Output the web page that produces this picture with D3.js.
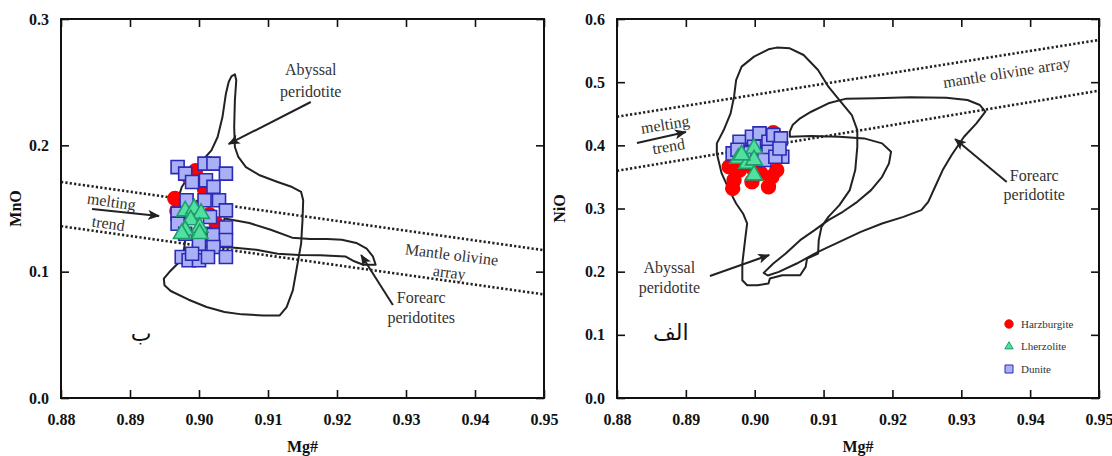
<!DOCTYPE html>
<html>
<head>
<meta charset="utf-8">
<style>
body { margin: 0; background: #fff; }
svg { display: block; }
.frame { fill: none; stroke: #111; stroke-width: 2; }
.axis path { display: none; }
.axis line { stroke: #111; stroke-width: 1.6; }
.axis text { font: bold 16px "Liberation Serif", serif; fill: #111; }
.title { font: bold 16px "Liberation Serif", serif; fill: #111; }
.field { fill: none; stroke: #222; stroke-width: 2; stroke-linejoin: round; }
.trend { fill: none; stroke: #222; stroke-width: 2.6; stroke-dasharray: 2.2, 2.2; }
.note { font: 16px "Liberation Serif", serif; fill: #333; }
.arrow { stroke: #222; stroke-width: 2; }
.arabic { font: 22px "DejaVu Sans", sans-serif; fill: #111; }
.legend text { font: 11px "Liberation Serif", serif; fill: #333; }
</style>
</head>
<body>
<svg width="1112" height="456"></svg>
<script src="https://d3js.org/d3.v7.min.js"></script>
<script>
// ---- data ----
var mgTicks = [0.88, 0.89, 0.90, 0.91, 0.92, 0.93, 0.94, 0.95];
var mnoTicks = [0.0, 0.1, 0.2, 0.3];
var nioTicks = [0.0, 0.1, 0.2, 0.3, 0.4, 0.5, 0.6];

// MnO vs Mg# (panel ب)
var mnoArrayUpper = [[0.88, 0.171], [0.95, 0.117]];
var mnoArrayLower = [[0.88, 0.136], [0.95, 0.082]];
var mnoAbyssal = [
  [0.9052, 0.2562], [0.9054, 0.2515], [0.9052, 0.2356], [0.9051, 0.2145], [0.9052, 0.1987],
  [0.9057, 0.1908], [0.9068, 0.1828], [0.9088, 0.1763], [0.9114, 0.1710], [0.9135, 0.1670],
  [0.9148, 0.1631], [0.9151, 0.1565], [0.9150, 0.1406], [0.9148, 0.1222], [0.9142, 0.1037],
  [0.9136, 0.0852], [0.9127, 0.0720], [0.9117, 0.0654], [0.9093, 0.0654], [0.9062, 0.0662],
  [0.9037, 0.0681], [0.9011, 0.0720], [0.8985, 0.0778], [0.8959, 0.0847], [0.8950, 0.0892],
  [0.8949, 0.0945], [0.8957, 0.0997], [0.8969, 0.1063], [0.8977, 0.1129], [0.8980, 0.1248],
  [0.8975, 0.1354], [0.8969, 0.1459], [0.8969, 0.1565], [0.8975, 0.1670], [0.8988, 0.1776],
  [0.9003, 0.1868], [0.9018, 0.1960], [0.9027, 0.2066], [0.9034, 0.2224], [0.9039, 0.2409],
  [0.9043, 0.2501], [0.9047, 0.2546]
];
var mnoForearc = [
  [0.9037, 0.1420], [0.9073, 0.1385], [0.9104, 0.1332], [0.9135, 0.1269], [0.9161, 0.1259],
  [0.9186, 0.1259], [0.9207, 0.1253], [0.9228, 0.1227], [0.9243, 0.1182], [0.9252, 0.1121],
  [0.9256, 0.1055], [0.9238, 0.1055], [0.9225, 0.1082], [0.9212, 0.1121], [0.9176, 0.1129],
  [0.9145, 0.1132], [0.9114, 0.1142], [0.9083, 0.1174], [0.9052, 0.1190], [0.9026, 0.1195]
];
var mnoHarz = [
  [0.8995, 0.180], [0.9005, 0.172], [0.9008, 0.165], [0.8965, 0.158], [0.8968, 0.148],
  [0.8972, 0.140], [0.9025, 0.138], [0.9028, 0.131], [0.9015, 0.145], [0.8985, 0.175]
];
var mnoDunite = [
  [0.8969, 0.1828], [0.8980, 0.1776], [0.9008, 0.1855], [0.9021, 0.1855], [0.9039, 0.1776],
  [0.8990, 0.1710], [0.9010, 0.1723], [0.8969, 0.1459], [0.8969, 0.1380], [0.8982, 0.1565],
  [0.9008, 0.1565], [0.9029, 0.1565], [0.9039, 0.1485], [0.8980, 0.1300], [0.9008, 0.1300],
  [0.9021, 0.1290], [0.9039, 0.1350], [0.9039, 0.1250], [0.9000, 0.1220], [0.9021, 0.1195],
  [0.9039, 0.1116], [0.8975, 0.1116], [0.8985, 0.1090], [0.9000, 0.1090], [0.9013, 0.1116],
  [0.8990, 0.1142], [0.9021, 0.1671], [0.8990, 0.1459], [0.9016, 0.1433]
];
var mnoLherz = [
  [0.8980, 0.1480], [0.8993, 0.1497], [0.9003, 0.1460], [0.8988, 0.1410], [0.9001, 0.1350],
  [0.9001, 0.1300], [0.8980, 0.1327], [0.8975, 0.1300]
];

// NiO vs Mg# (panel الف)
var nioArrayUpper = [[0.88, 0.4453], [0.95, 0.5668]];
var nioArrayLower = [[0.88, 0.3597], [0.95, 0.4865]];
var nioAbyssal = [
  [0.9032, 0.5547], [0.9051, 0.5536], [0.9071, 0.5430], [0.9092, 0.5193], [0.9107, 0.4929],
  [0.9123, 0.4717], [0.9141, 0.4480], [0.9149, 0.4242], [0.9149, 0.3978], [0.9146, 0.3608],
  [0.9138, 0.3291], [0.9123, 0.3053], [0.9107, 0.2868], [0.9097, 0.2710], [0.9093, 0.2499],
  [0.9092, 0.2287], [0.9076, 0.2208], [0.9074, 0.2076], [0.9066, 0.1944], [0.9040, 0.1944],
  [0.9022, 0.1891], [0.9020, 0.1812], [0.9004, 0.1786], [0.8989, 0.1786], [0.8982, 0.1865],
  [0.8982, 0.2129], [0.8986, 0.2499], [0.8989, 0.2763], [0.8983, 0.2921], [0.8973, 0.3080],
  [0.8963, 0.3291], [0.8952, 0.3555], [0.8945, 0.3872], [0.8945, 0.4031], [0.8955, 0.4242],
  [0.8965, 0.4506], [0.8970, 0.4770], [0.8973, 0.5034], [0.8981, 0.5246], [0.8999, 0.5404],
  [0.9020, 0.5520]
];
var nioForearc = [
  [0.9051, 0.4136], [0.9082, 0.4147], [0.9123, 0.4136], [0.9159, 0.4110], [0.9185, 0.4031],
  [0.9198, 0.3899], [0.9195, 0.3714], [0.9185, 0.3502], [0.9169, 0.3291], [0.9149, 0.3106],
  [0.9128, 0.2948], [0.9107, 0.2816], [0.9087, 0.2657], [0.9066, 0.2499], [0.9045, 0.2287],
  [0.9027, 0.2129], [0.9013, 0.1981], [0.9019, 0.1939], [0.9035, 0.1997], [0.9061, 0.2129],
  [0.9092, 0.2314], [0.9123, 0.2472], [0.9154, 0.2631], [0.9185, 0.2763], [0.9216, 0.2868],
  [0.9242, 0.2974], [0.9252, 0.3106], [0.9262, 0.3344], [0.9273, 0.3608], [0.9286, 0.3846],
  [0.9304, 0.4136], [0.9322, 0.4348], [0.9335, 0.4532], [0.9327, 0.4638], [0.9309, 0.4717],
  [0.9278, 0.4754], [0.9226, 0.4760], [0.9175, 0.4744], [0.9133, 0.4739], [0.9107, 0.4665],
  [0.9082, 0.4532], [0.9066, 0.4427], [0.9055, 0.4321], [0.9051, 0.4216]
];
var nioHarz = [
  [0.8968, 0.3318], [0.8970, 0.3450], [0.8978, 0.3608], [0.8996, 0.3423], [0.8999, 0.3608],
  [0.9020, 0.3344], [0.9025, 0.3502], [0.9032, 0.3608], [0.9009, 0.3555], [0.9027, 0.4200],
  [0.8963, 0.3660]
];
var nioDunite = [
  [0.8968, 0.3872], [0.8978, 0.4057], [0.8996, 0.4136], [0.9007, 0.4189], [0.9020, 0.4057],
  [0.9027, 0.4163], [0.9038, 0.4110], [0.9040, 0.3819], [0.9020, 0.3899], [0.8999, 0.3978],
  [0.9014, 0.3767], [0.9030, 0.3819], [0.8991, 0.3899], [0.9036, 0.3950], [0.8985, 0.3880],
  [0.8975, 0.3930]
];
var nioLherz = [
  [0.8976, 0.3793], [0.8989, 0.3714], [0.8999, 0.3951], [0.8999, 0.3767], [0.8999, 0.3529],
  [0.8981, 0.3846]
];

var rockTypes = ["Harzburgite", "Lherzolite", "Dunite"];

// ---- drawing ----
var svg = d3.select("svg");

svg.append("defs").append("marker")
    .attr("id", "head")
    .attr("viewBox", "0 0 12 10")
    .attr("refX", 11).attr("refY", 5)
    .attr("markerWidth", 12).attr("markerHeight", 10)
    .attr("markerUnits", "userSpaceOnUse")
    .attr("orient", "auto")
  .append("path")
    .attr("d", "M0,0L12,5L0,10L3,5Z")
    .attr("fill", "#222");

var sym = {
  Harzburgite: { type: d3.symbolCircle, size: 150, fill: "#ff0000", stroke: "#ff0000" },
  Lherzolite: { type: d3.symbolTriangle, size: 120, fill: "#52e0a2", stroke: "#1f9e68" },
  Dunite: { type: d3.symbolSquare, size: 170, fill: "#aab0f6", stroke: "#2b2bb5" }
};

function panel(o) {
  var w = o.width, h = o.height;
  var g = svg.append("g").attr("transform", "translate(" + o.left + "," + o.top + ")");
  var x = d3.scaleLinear().domain([0.88, 0.95]).range([0, w]);
  var y = d3.scaleLinear().domain([0, o.ymax]).range([h, 0]);

  g.append("g").attr("class", "axis")
      .attr("transform", "translate(0," + h + ")")
      .call(d3.axisBottom(x).tickValues(mgTicks).tickSize(-8).tickPadding(16).tickFormat(d3.format(".2f")));
  g.append("g").attr("class", "axis")
      .call(d3.axisTop(x).tickValues(mgTicks).tickSize(-8).tickFormat(""));
  g.append("g").attr("class", "axis")
      .call(d3.axisLeft(y).tickValues(o.yTicks).tickSize(-8).tickPadding(12).tickFormat(d3.format(".1f")));
  g.append("g").attr("class", "axis")
      .attr("transform", "translate(" + w + ",0)")
      .call(d3.axisRight(y).tickValues(o.yTicks).tickSize(-8).tickFormat(""));

  var line = d3.line().x(function(d) { return x(d[0]); }).y(function(d) { return y(d[1]); });
  var closed = d3.line().x(function(d) { return x(d[0]); }).y(function(d) { return y(d[1]); })
      .curve(d3.curveLinearClosed);

  g.append("path").attr("class", "trend").attr("d", line(o.upper));
  g.append("path").attr("class", "trend").attr("d", line(o.lower));
  g.append("path").attr("class", "field").attr("d", closed(o.abyssal));
  g.append("path").attr("class", "field").attr("d", closed(o.forearc));

  [["Harzburgite", o.harz], ["Dunite", o.dunite], ["Lherzolite", o.lherz]].forEach(function(s) {
    var st = sym[s[0]];
    g.append("g").selectAll("path")
      .data(s[1])
      .enter().append("path")
        .attr("transform", function(d) { return "translate(" + x(d[0]) + "," + y(d[1]) + ")"; })
        .attr("d", d3.symbol().type(st.type).size(st.size))
        .attr("fill", st.fill)
        .attr("stroke", st.stroke)
        .attr("stroke-width", 1.6);
  });

  o.notes.forEach(function(n) {
    var t = g.append("text").attr("class", "note")
        .attr("text-anchor", "middle")
        .attr("transform", "translate(" + x(n.at[0]) + "," + y(n.at[1]) + ") rotate(" + (n.rot || 0) + ")");
    n.lines.forEach(function(l, i) {
      t.append("tspan").attr("x", 0).attr("y", 5 + i * (n.gap || 20)).text(l);
    });
  });
  o.arrows.forEach(function(a) {
    g.append("line").attr("class", "arrow")
        .attr("x1", x(a[0][0])).attr("y1", y(a[0][1]))
        .attr("x2", x(a[1][0])).attr("y2", y(a[1][1]))
        .attr("marker-end", "url(#head)");
  });
  g.append("text").attr("class", "arabic")
      .attr("text-anchor", "middle")
      .attr("x", x(o.letterAt[0])).attr("y", y(o.letterAt[1]) + 8)
      .text(o.letter);

  g.append("rect").attr("class", "frame").attr("width", w).attr("height", h);

  g.append("text").attr("class", "title")
      .attr("text-anchor", "middle")
      .attr("x", w / 2).attr("y", h + 54)
      .text("Mg#");
  g.append("text").attr("class", "title")
      .attr("text-anchor", "middle")
      .attr("transform", "translate(" + o.yTitleX + "," + (h / 2) + ") rotate(-90)")
      .text(o.yTitle);
  return g;
}

panel({
  left: 61, top: 19, width: 483, height: 379, ymax: 0.3, yTicks: mnoTicks,
  yTitle: "MnO", yTitleX: -40,
  upper: mnoArrayUpper, lower: mnoArrayLower,
  abyssal: mnoAbyssal, forearc: mnoForearc,
  harz: mnoHarz, dunite: mnoDunite, lherz: mnoLherz,
  notes: [
    { at: [0.9162, 0.2596], lines: ["Abyssal", "peridotite"], gap: 22 },
    { at: [0.8873, 0.1551], lines: ["melting", "trend"], rot: 8, gap: 22 },
    { at: [0.9366, 0.1132], lines: ["Mantle olivine", "array"], rot: 7, gap: 18 },
    { at: [0.9322, 0.0792], lines: ["Forearc", "peridotites"], gap: 20 }
  ],
  arrows: [
    [[0.9162, 0.2343], [0.9043, 0.2011]],
    [[0.8845, 0.1496], [0.8942, 0.1441]],
    [[0.9281, 0.0736], [0.9235, 0.1132]]
  ],
  letter: "ب", letterAt: [0.8916, 0.0514]
});

var right = panel({
  left: 617, top: 19, width: 482, height: 379, ymax: 0.6, yTicks: nioTicks,
  yTitle: "NiO", yTitleX: -52,
  upper: nioArrayUpper, lower: nioArrayLower,
  abyssal: nioAbyssal, forearc: nioForearc,
  harz: nioHarz, dunite: nioDunite, lherz: nioLherz,
  notes: [
    { at: [0.9366, 0.5145], lines: ["mantle olivine array"], rot: -9 },
    { at: [0.8870, 0.4322], lines: ["melting", "trend"], rot: -9, gap: 22 },
    { at: [0.9406, 0.3515], lines: ["Forearc", "peridotite"], gap: 19 },
    { at: [0.8876, 0.2058], lines: ["Abyssal", "peridotite"], gap: 20 }
  ],
  arrows: [
    [[0.8829, 0.4037], [0.8900, 0.4211]],
    [[0.9366, 0.3420], [0.9291, 0.4100]],
    [[0.8935, 0.1931], [0.9021, 0.2264]]
  ],
  letter: "الف", letterAt: [0.8878, 0.1045]
});

// legend (right panel)
var legend = right.append("g").attr("class", "legend")
    .attr("transform", "translate(392,305)");
var item = legend.selectAll("g")
    .data(rockTypes)
    .enter().append("g")
      .attr("transform", function(d, i) { return "translate(0," + i * 22.5 + ")"; });
item.append("path")
    .attr("d", function(d) {
      var s = { Harzburgite: 55, Lherzolite: 30, Dunite: 64 }[d];
      return d3.symbol().type(sym[d].type).size(s)();
    })
    .attr("fill", function(d) { return sym[d].fill; })
    .attr("stroke", function(d) { return sym[d].stroke; })
    .attr("stroke-width", 1);
item.append("text")
    .attr("x", 12)
    .attr("dy", "0.35em")
    .text(function(d) { return d; });
</script>
</body>
</html>
